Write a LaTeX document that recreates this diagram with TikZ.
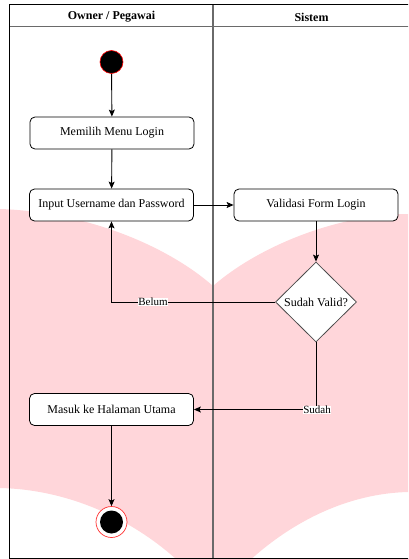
\documentclass[tikz,border=0pt]{standalone}
\usepackage{fontspec}
\setmainfont{Liberation Serif}
\usetikzlibrary{shapes.geometric,arrows.meta}
\definecolor{wmpink}{HTML}{FFD6DA}
\definecolor{lanegray}{HTML}{6A6A6A}
\tikzset{
  act/.style={draw=black, line width=0.8pt, rounded corners=5pt, fill=white, minimum width=164pt, minimum height=32pt, inner sep=0pt, font=\fontsize{12}{14}\selectfont},
  decide/.style={draw=black!70, line width=0.8pt, diamond, fill=white, minimum width=81pt, minimum height=80pt, inner sep=0pt, font=\fontsize{12}{14}\selectfont},
  flow/.style={draw=black, line width=0.9pt, -{Stealth[length=7pt,width=6pt,inset=1.5pt]}},
  lbl/.style={fill=white, inner sep=0.6pt, font=\fontsize{11}{12}\selectfont},
  hdr/.style={font=\fontsize{12}{14}\selectfont\bfseries},
}
\begin{document}
\begin{tikzpicture}[x=1pt,y=-1pt]
\useasboundingbox (0,0) rectangle (408,559);
\begin{scope}
\clip (0,0) rectangle (408,559);
% watermark shape
\fill[wmpink] (0,209) .. controls (90,212) and (170,248) .. (213,286)
  .. controls (260,245) and (340,214) .. (408,214)
  -- (408,492) .. controls (330,494) and (260,540) .. (213,600)
  .. controls (170,540) and (90,490) .. (0,488) -- cycle;
% swimlane frame
\draw[lanegray, line width=1pt] (9,27) -- (410,27);
\draw[lanegray, line width=1.2pt] (213,5) -- (213,558);
\draw[black, line width=1pt] (9,5) rectangle (410,558);
\node[hdr] (h1) at (111.5,17) {Owner / Pegawai};
\node[hdr] (h2) at (311.5,17) {Sistem};
% nodes
\node[circle, fill=black, draw=red, line width=0.6pt, minimum size=23pt, inner sep=0pt] (start) at (111.5,62) {};
\node[act] (m1) at (112,133) {Memilih Menu Login};
\node[act] (m2) at (111.5,205) {Input Username dan Password};
\node[act] (v1) at (316,205) {Validasi Form Login};
\node[decide] (d1) at (316,302) {Sudah Valid?};
\node[act] (m3) at (111.5,409.5) {Masuk ke Halaman Utama};
\node[circle, draw=red!80, line width=0.7pt, fill=white, minimum size=31pt, inner sep=0pt] (end) at (111.5,522) {};
\node[circle, fill=black, minimum size=23pt, inner sep=0pt] (endin) at (end.center) {};
\coordinate (cb) at (111.5,302);
\coordinate (cs) at (316,409.5);
% edges
\draw[flow] (start) -- (m1);
\draw[flow] (m1) -- (m2);
\draw[flow] (m2) -- (v1);
\draw[flow] (v1) -- (d1);
\draw[flow] (d1.west) -- (cb) -- (m2.south);
\draw[flow] (d1.south) -- (cs) -- (m3.east);
\draw[flow] (m3) -- (end);
\node[lbl] (lb) at (153,302) {Belum};
\node[lbl] (ls) at (317,410) {Sudah};
\end{scope}
\end{tikzpicture}
\end{document}
